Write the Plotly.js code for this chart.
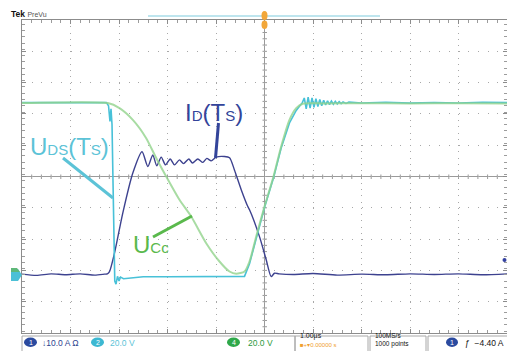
<!DOCTYPE html>
<html>
<head>
<meta charset="utf-8">
<script src="https://cdn.plot.ly/plotly-3.0.1.min.js"></script>
<style>
  html, body { margin: 0; padding: 0; background: #fff; }
  #chart { width: 507px; height: 351px; }
</style>
</head>
<body>
<div id="chart"></div>
<script>
// ---- Data (time in µs, 1 µs/div) ----
// Channel 1: drain current I_D(Ts), amperes (10 A/div)
const idTime = [-5.0, -4.7, -4.4, -4.1, -3.8, -3.5, -3.3, -3.24, -3.196, -3.093, -2.922, -2.715, -2.525,
  -2.406, -2.303, -2.221, -2.130, -2.041, -1.944, -1.856, -1.753, -1.670, -1.561, -1.485, -1.375,
  -1.272, -1.190, -1.099, -0.996, -0.825, -0.72, -0.62, -0.48, -0.344, -0.309, -0.103, 0.035, 0.138,
  0.206, 0.3, 0.6, 1.0, 1.5, 2.0, 2.5, 3.0, 3.5, 4.0, 4.5, 5.0];
const idAmps = [0.2, -0.2, 0.3, 0.0, 0.3, -0.1, 0.2, 0.3, 1.0, 6.9, 19.7, 32.5, 39.3,
  34.6, 38.3, 34.8, 37.6, 35.1, 37.0, 35.1, 36.7, 35.5, 37.0, 35.7, 37.0,
  35.9, 37.2, 36.4, 37.6, 37.8, 37.4, 33.5, 27.2, 21.8, 20.8, 12.2, 4.8, -0.6,
  0.5, 0.3, 0.1, 0.4, -0.1, 0.2, 0.0, 0.3, 0.1, 0.3, 0.0, 0.3];

// Channel 2: U_DS(Ts), volts (20 V/div)
const udsTime = [-5.0, -3.26, -3.216, -3.186, -3.165, -3.144, -3.124, -3.103, -3.087, -3.062, -3.031,
  -3.0, -2.969, -2.907, -2.5, -2.0, -1.5, -1.0, -0.412, -0.309, -0.171, 0.0, 0.186, 0.344, 0.515,
  0.654, 0.78, 0.82, 0.86, 0.90, 0.94, 0.98, 1.02, 1.06, 1.10, 1.14, 1.18, 1.22, 1.26, 1.30, 1.34,
  1.38, 1.42, 1.46, 1.50, 1.54, 1.58, 1.62, 1.68, 1.74, 2.0, 2.5, 3.0, 3.5, 4.0, 4.5, 5.0];
const udsVolts = [110, 110, 108, 98, 106, 96, 60, 15, -4, -6, -1,
  -4, -1.5, -2.5, -1.3, -1.3, -1.3, -1.3, -1, 7, 23, 43, 62, 81, 97,
  105, 110, 113, 106, 113.5, 106.5, 113, 107, 112.5, 107.5, 112, 108, 111.5, 108.5, 111.2, 108.8,
  111, 109, 110.8, 109.2, 110.6, 109.4, 110.5, 109.5, 110.3, 109.8, 110.2, 109.7, 110.1, 109.8, 110.2, 110];

// Channel 4: U_Cc, volts (20 V/div)
const uccTime = [-5.0, -3.231, -2.990, -2.715, -2.439, -2.233, -2.027, -1.753, -1.511, -1.202, -0.928,
  -0.722, -0.584, -0.412, -0.309, -0.171, 0.0, 0.186, 0.344, 0.515, 0.654, 0.79, 1.2, 2.0, 3.0, 4.0, 5.0];
const uccVolts = [109.7, 109.7, 106.5, 99.0, 87.3, 74.6, 62.8, 47.9, 37.2, 20.2, 8.5,
  2.1, 0.6, 2.1, 8.5, 24.5, 43.6, 62.8, 82.0, 99.0, 106.5, 109.3, 109.5, 109.6, 109.5, 109.6, 109.5];

const labelUDS = 'U<span style="font-size:15px">DS</span>(T<span style="font-size:15px">S</span>)';
const labelID = 'I<span style="font-size:15px">D</span>(T<span style="font-size:15px">S</span>)';
const labelUCC = 'U<span style="font-size:15px">Cc</span>';

// ---- colours ----
const NAVY = '#3d428f', CYAN = '#48c1d8', GREEN = '#92d38c';
const LBL_CYAN = '#5cc3d7', LBL_GREEN = '#5ab94c', LBL_NAVY = '#33449a';

// pixel -> paper helpers (plot area: x 22..507, y 20..333)
const PX = x => (x - 22) / 485;
const PY = y => (333 - y) / 313;

const traces = [
  {x: udsTime, y: udsVolts, yaxis: 'y2', mode: 'lines', line: {color: CYAN, width: 1.6}, hoverinfo: 'skip'},
  {x: uccTime, y: uccVolts, yaxis: 'y2', mode: 'lines', line: {color: GREEN, width: 2, shape: 'spline', smoothing: 0.6}, opacity: 0.8, hoverinfo: 'skip'},
  {x: idTime, y: idAmps, yaxis: 'y', mode: 'lines', line: {color: NAVY, width: 1.4, shape: 'spline', smoothing: 0.7}, hoverinfo: 'skip'}
];

const shapes = [];
// centre crosshair with fine ticks
shapes.push({type: 'line', xref: 'paper', yref: 'paper', x0: 0.5, x1: 0.5, y0: 0, y1: 1, line: {color: '#9a9a9a', width: 1}, layer: 'below'});
shapes.push({type: 'line', xref: 'paper', yref: 'paper', x0: 0, x1: 1, y0: 0.5, y1: 0.5, line: {color: '#9a9a9a', width: 1}, layer: 'below'});
for (let i = 1; i < 50; i++) {
  const fx = i / 50;
  shapes.push({type: 'line', xref: 'paper', yref: 'paper', x0: fx, x1: fx, y0: PY(179), y1: PY(174.5), line: {color: '#9a9a9a', width: 1}, layer: 'below'});
  shapes.push({type: 'line', xref: 'paper', yref: 'paper', x0: PX(262.5), x1: PX(267), y0: fx, y1: fx, line: {color: '#9a9a9a', width: 1}, layer: 'below'});
}
// pointer lines
shapes.push({type: 'line', xref: 'paper', yref: 'paper', x0: PX(63), y0: PY(158), x1: PX(113), y1: PY(198), line: {color: LBL_CYAN, width: 3}});
shapes.push({type: 'line', xref: 'paper', yref: 'paper', x0: PX(153), y0: PY(237), x1: PX(192), y1: PY(216), line: {color: LBL_GREEN, width: 3}});
shapes.push({type: 'line', xref: 'paper', yref: 'paper', x0: PX(218.5), y0: PY(123), x1: PX(215.5), y1: PY(158), line: {color: LBL_NAVY, width: 3}});
// top record bar + trigger position marker
shapes.push({type: 'line', xref: 'paper', yref: 'paper', x0: PX(148), x1: PX(380), y0: PY(16), y1: PY(16), line: {color: '#a9dde8', width: 1.5}});
shapes.push({type: 'circle', xref: 'paper', yref: 'paper', x0: PX(261.5), x1: PX(267.5), y0: PY(20), y1: PY(11), fillcolor: '#f2a73a', line: {width: 0}});
shapes.push({type: 'circle', xref: 'paper', yref: 'paper', x0: PX(261.5), x1: PX(267.5), y0: PY(29), y1: PY(20.5), fillcolor: '#f2a73a', line: {width: 0}});
// channel ground marker (left) and trigger level dot (right)
shapes.push({type: 'path', xref: 'paper', yref: 'paper',
  path: `M ${PX(11)} ${PY(269)} L ${PX(18)} ${PY(269)} L ${PX(22)} ${PY(275)} L ${PX(18)} ${PY(281)} L ${PX(11)} ${PY(281)} Z`,
  fillcolor: '#4cc0d6', line: {width: 0}});
shapes.push({type: 'path', xref: 'paper', yref: 'paper',
  path: `M ${PX(11)} ${PY(268)} L ${PX(17)} ${PY(268)} L ${PX(20)} ${PY(272)} L ${PX(11)} ${PY(272)} Z`,
  fillcolor: '#5fb879', line: {width: 0}});
shapes.push({type: 'circle', xref: 'paper', yref: 'paper', x0: PX(502.5), x1: PX(506.5), y0: PY(262), y1: PY(258), fillcolor: '#3340a0', line: {width: 0}});
// status bar boxes
const boxes = [[22, 295], [295, 368], [370, 426], [428, 508]];
boxes.forEach(b => shapes.push({type: 'rect', xref: 'paper', yref: 'paper', x0: PX(b[0]), x1: PX(b[1]), y0: PY(336), y1: PY(352), line: {color: '#a8a8a8', width: 1}}));
const chips = [[24, 37, '#2b4a9f'], [91, 104, '#3cb8d2'], [227, 240, '#2ea84a'], [446, 458, '#2b4a9f']];
chips.forEach(c => shapes.push({type: 'circle', xref: 'paper', yref: 'paper', x0: PX(c[0]), x1: PX(c[1]), y0: PY(347), y1: PY(337.5), fillcolor: c[2], line: {width: 0}}));

const F = 'Liberation Sans, Arial, sans-serif';
const ann = (x, y, text, size, color, anchor, extra) => Object.assign({
  xref: 'paper', yref: 'paper', x: PX(x), y: PY(y), text: text, showarrow: false,
  xanchor: anchor || 'center', yanchor: 'middle', font: {family: F, size: size, color: color}
}, extra || {});

const annotations = [
  ann(69, 146, labelUDS, 24, LBL_CYAN),
  ann(214, 112, labelID, 24, LBL_NAVY),
  ann(151, 244, labelUCC, 24, LBL_GREEN),
  ann(9, 14, '<b>Tek</b> <span style="font-size:7px;color:#555">PreVu</span>', 8.5, '#111', 'left'),
  ann(30.5, 342.5, '1', 7, '#fff'),
  ann(97.5, 342.5, '2', 7, '#fff'),
  ann(233.5, 342.5, '4', 7, '#fff'),
  ann(452, 342.5, '1', 7, '#fff'),
  ann(40, 342.5, '↓10.0 A Ω', 8.5, '#2b3f8f', 'left'),
  ann(108, 342.5, '20.0 V', 8.5, '#5cc3d7', 'left'),
  ann(246, 342.5, '20.0 V', 8.5, '#2e9a3e', 'left'),
  ann(298, 350.5, '1.00µs<br><span style="color:#f0a030;font-size:6px">■+▾0.00000 s</span>', 7, '#111', 'left', {align: 'left', yanchor: 'bottom'}),
  ann(373, 350.5, '100MS/s<br>1000 points', 6.5, '#111', 'left', {align: 'left', yanchor: 'bottom'}),
  ann(463, 342.5, 'ƒ  −4.40 A', 8.5, '#111', 'left')
];

const gridCol = '#a8a8a8';
const layout = {
  width: 507, height: 351,
  margin: {l: 22, r: 0, t: 20, b: 18, pad: 0},
  paper_bgcolor: '#ffffff', plot_bgcolor: '#ffffff',
  showlegend: false,
  xaxis: {
    range: [-5, 5], dtick: 1, tick0: 0, showticklabels: false,
    showgrid: true, gridcolor: gridCol, gridwidth: 1, griddash: '1px,5.26px',
    zeroline: false, showline: true, linecolor: '#8c8c8c', linewidth: 1, mirror: 'ticks',
    ticks: 'inside', ticklen: 4, tickcolor: '#8c8c8c',
    minor: {dtick: 0.2, ticks: 'inside', ticklen: 3, tickcolor: '#9c9c9c', showgrid: false},
    fixedrange: true
  },
  yaxis: {
    range: [-18.6, 81.4], dtick: 10, tick0: 1.4, showticklabels: false,
    showgrid: true, gridcolor: gridCol, gridwidth: 1, griddash: '1px,8.7px',
    zeroline: false, showline: true, linecolor: '#8c8c8c', linewidth: 1, mirror: 'ticks',
    ticks: 'inside', ticklen: 4, tickcolor: '#8c8c8c',
    minor: {dtick: 2, ticks: 'inside', ticklen: 3, tickcolor: '#9c9c9c', showgrid: false},
    fixedrange: true
  },
  yaxis2: {
    range: [-37.2, 162.8], overlaying: 'y', visible: false, fixedrange: true
  },
  shapes: shapes,
  annotations: annotations
};

Plotly.newPlot('chart', traces, layout, {displayModeBar: false, staticPlot: true});
</script>
</body>
</html>
